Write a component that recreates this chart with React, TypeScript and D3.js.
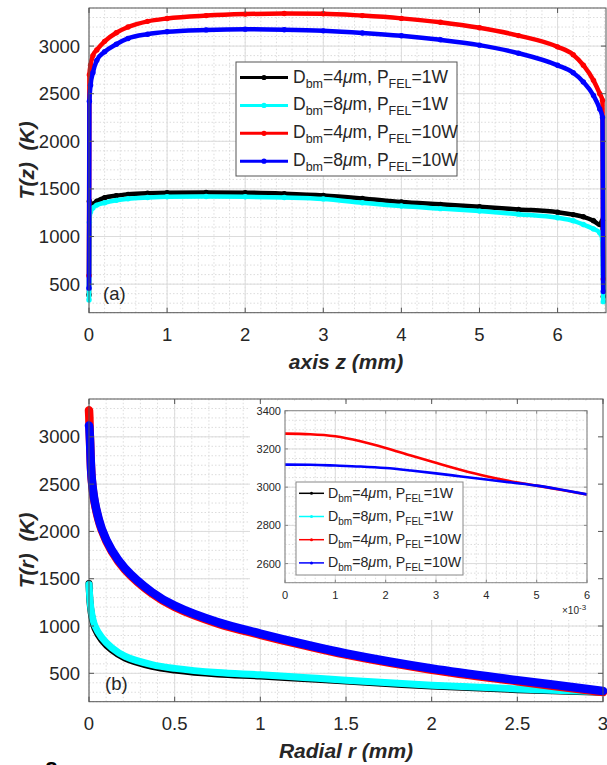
import * as d3 from "d3";
import React from "react";

// ---- panel (a): T(z) along the axis ----
const zPos = [0, 0.005, 0.02, 0.05, 0.1, 0.2, 0.35, 0.5, 0.75, 1, 1.5, 2, 2.5, 3, 3.5, 4, 4.5, 5, 5.5, 6, 6.2, 6.33, 6.46, 6.54, 6.575, 6.585];
const zBlack = [387, 1370, 1330, 1340, 1370, 1408, 1430, 1443, 1455, 1461, 1463, 1461, 1450, 1432, 1400, 1362, 1338, 1313, 1285, 1256, 1230, 1207, 1165, 1125, 1170, 369];
const zCyan = [334, 1150, 1260, 1300, 1330, 1355, 1380, 1397, 1410, 1418, 1421, 1418, 1410, 1395, 1355, 1320, 1293, 1267, 1235, 1197, 1165, 1126, 1080, 1040, 968, 316];
const zRed = [588, 2700, 2800, 2900, 2960, 3050, 3140, 3200, 3260, 3290, 3320, 3336, 3342, 3340, 3320, 3291, 3250, 3192, 3110, 2992, 2910, 2800, 2640, 2500, 2430, 553];
const zBlue = [458, 2420, 2590, 2720, 2850, 2940, 3020, 3080, 3125, 3150, 3170, 3178, 3172, 3160, 3138, 3108, 3066, 3010, 2925, 2798, 2720, 2623, 2481, 2340, 2250, 422];

// ---- panel (b): T(r) radial ----
const rPos = [0, 0.002, 0.004, 0.006, 0.016, 0.035, 0.074, 0.133, 0.21, 0.367, 0.5, 0.75, 1, 1.25, 1.5, 2, 2.5, 3];
const rBlack = [1450, 1370, 1305, 1250, 1105, 975, 855, 748, 660, 573, 535, 493, 472, 445, 418, 366, 327, 299];
const rCyan = [1440, 1380, 1320, 1270, 1130, 1000, 880, 770, 680, 592, 552, 508, 485, 456, 428, 375, 335, 305];
const rRed = [3280, 3205, 3060, 2960, 2548, 2287, 2017, 1789, 1597, 1346, 1202, 1028, 907, 797, 697, 538, 416, 302];
const rBlue = [3120, 3100, 3040, 2960, 2560, 2300, 2030, 1802, 1610, 1359, 1215, 1041, 920, 810, 710, 551, 428, 314];

// ---- inset (r in 1e-3 mm) ----
const insetR = [0, 0.5, 1, 1.5, 2, 2.5, 3, 3.5, 4, 4.5, 5, 5.5, 6];
const insetRed = [3280, 3277, 3266, 3240, 3205, 3165, 3127, 3090, 3057, 3030, 3008, 2985, 2962];
const insetBlue = [3118, 3117, 3113, 3108, 3100, 3087, 3072, 3056, 3040, 3024, 3008, 2986, 2962];

const legendD = ["4", "8", "4", "8"];
const legendP = ["1", "1", "10", "10"];
const colors = ["#000000", "#00ffff", "#ff0000", "#0000ff"];

const yTicks = [500, 1000, 1500, 2000, 2500, 3000];
const zTicks = [0, 1, 2, 3, 4, 5, 6];
const rTicks = [0, 0.5, 1, 1.5, 2, 2.5, 3];
const insetXTicks = [0, 1, 2, 3, 4, 5, 6];
const insetYTicks = [2600, 2800, 3000, 3200, 3400];

const FONT = "'Liberation Sans', Arial, Helvetica, sans-serif";
const GRID = "#dcdcdc";
const AXIS = "#555";
const TXT = "#262626";

const LegendLabel = ({ x, y, d, p, fs, sub }) => (
  <text x={x} y={y} fontSize={fs} fontFamily={FONT} fill={TXT}>
    D<tspan dy={sub * 0.4} fontSize={sub}>bm</tspan>
    <tspan dy={-sub * 0.4}>={d}</tspan>
    <tspan fontStyle="italic">μ</tspan>m, P
    <tspan dy={sub * 0.4} fontSize={sub}>FEL</tspan>
    <tspan dy={-sub * 0.4}>={p}W</tspan>
  </text>
);

const range = (a, b, step) => d3.range(Math.round((b - a) / step) + 1).map(i => a + i * step);

function Grid({ x, y, xMinor, yMinor, xMajor, yMajor }) {
  const [x0, x1] = x.range();
  const [y0, y1] = y.range();
  return (
    <g>
      {xMinor.map((v, i) => (
        <line key={"xm" + i} x1={x(v)} x2={x(v)} y1={y0} y2={y1} stroke={GRID} strokeDasharray="1.5,2" />
      ))}
      {yMinor.map((v, i) => (
        <line key={"ym" + i} x1={x0} x2={x1} y1={y(v)} y2={y(v)} stroke={GRID} strokeDasharray="1.5,2" />
      ))}
      {xMajor.map((v, i) => (
        <line key={"xM" + i} x1={x(v)} x2={x(v)} y1={y0} y2={y1} stroke={GRID} />
      ))}
      {yMajor.map((v, i) => (
        <line key={"yM" + i} x1={x0} x2={x1} y1={y(v)} y2={y(v)} stroke={GRID} />
      ))}
    </g>
  );
}

function Frame({ x, y, xTicks, yTicks, tick = 5, color = AXIS }) {
  const [x0, x1] = x.range();
  const [y0, y1] = y.range();
  return (
    <g stroke={color} fill="none">
      <rect x={x0} y={y1} width={x1 - x0} height={y0 - y1} />
      {xTicks.map((v, i) => (
        <g key={"xt" + i}>
          <line x1={x(v)} x2={x(v)} y1={y0} y2={y0 - tick} />
          <line x1={x(v)} x2={x(v)} y1={y1} y2={y1 + tick} />
        </g>
      ))}
      {yTicks.map((v, i) => (
        <g key={"yt" + i}>
          <line x1={x0} x2={x0 + tick} y1={y(v)} y2={y(v)} />
          <line x1={x1} x2={x1 - tick} y1={y(v)} y2={y(v)} />
        </g>
      ))}
    </g>
  );
}

export default function App() {
  // top panel scales
  const xA = d3.scaleLinear().domain([0, 6.62]).range([89, 606]);
  const yA = d3.scaleLinear().domain([200, 3400]).range([312.7, 8]);
  // bottom panel scales
  const xB = d3.scaleLinear().domain([0, 3]).range([89, 603]);
  const yB = d3.scaleLinear().domain([200, 3400]).range([701.7, 399]);
  // inset scales
  const xI = d3.scaleLinear().domain([0, 6]).range([285, 587]);
  const yI = d3.scaleLinear().domain([2500, 3400]).range([582.7, 410.7]);

  const topSeries = [zBlack, zCyan, zRed, zBlue];
  const botSeries = [rBlack, rCyan, rRed, rBlue];

  const lineA = d3.line<number>().x((_, i) => xA(zPos[i])).y(d => yA(d)).curve(d3.curveMonotoneX);
  const lineB = d3.line<number>().x((_, i) => xB(rPos[i])).y(d => yB(d)).curve(d3.curveCatmullRom.alpha(0.5));
  const lineI = d3.line<number>().x((_, i) => xI(insetR[i])).y(d => yI(d)).curve(d3.curveMonotoneX);

  return (
    <svg width={607} height={765} style={{ position: "absolute", left: 0, top: 0, background: "#fff" }} fontFamily={FONT}>
      <rect x={0} y={0} width={607} height={765} fill="#fff" />

      {/* ===== panel (a) ===== */}
      <Grid x={xA} y={yA} xMinor={range(0, 6.6, 0.2)} yMinor={range(200, 3400, 100)} xMajor={zTicks} yMajor={yTicks} />
      {topSeries.map((s, k) => (
        <g key={"a" + k}>
          <path d={lineA(s)} fill="none" stroke={colors[k]} strokeWidth={4.5} />
          {s.map((v, i) => (
            <circle key={i} cx={xA(zPos[i])} cy={yA(v)} r={2.7} fill={colors[k]} />
          ))}
        </g>
      ))}
      <Frame x={xA} y={yA} xTicks={zTicks} yTicks={yTicks} />
      {yTicks.map(v => (
        <text key={v} x={80} y={yA(v) + 6.5} textAnchor="end" fontSize={18.5} fill={TXT}>{v}</text>
      ))}
      {zTicks.map(v => (
        <text key={v} x={xA(v)} y={341} textAnchor="middle" fontSize={18.5} fill={TXT}>{v}</text>
      ))}
      <text x={103} y={300} fontSize={18.5} fill={TXT}>(a)</text>
      <text x={346} y={369} textAnchor="middle" fontSize={21} fontWeight="bold" fontStyle="italic" fill={TXT}>axis z (mm)</text>
      <text transform={`translate(34,${(8 + 312.7) / 2}) rotate(-90)`} textAnchor="middle" fontSize={21} fontWeight="bold" fontStyle="italic" fill={TXT} style={{ whiteSpace: "pre" }}>T(z)  (K)</text>

      {/* legend (a) */}
      <rect x={236} y={62} width={221} height={114} fill="#fff" stroke={AXIS} />
      {colors.map((c, k) => {
        const ly = 77.5 + k * 27.9;
        return (
          <g key={"la" + k}>
            <line x1={240} x2={288} y1={ly} y2={ly} stroke={c} strokeWidth={3} />
            <circle cx={264} cy={ly} r={2.6} fill={c} />
            <LegendLabel x={293} y={ly + 5} d={legendD[k]} p={legendP[k]} fs={17.5} sub={12.5} />
          </g>
        );
      })}

      {/* ===== panel (b) ===== */}
      <Grid x={xB} y={yB} xMinor={range(0, 3, 0.1)} yMinor={range(200, 3400, 100)} xMajor={rTicks} yMajor={yTicks} />
      {botSeries.map((s, k) => (
        <path key={"b" + k} d={lineB(s)} fill="none" stroke={colors[k]} strokeWidth={k < 2 ? 7 : 8.5} strokeLinecap="round" />
      ))}

      {/* inset */}
      <rect x={250} y={402} width={354} height={218} fill="#fff" />
      <Grid x={xI} y={yI} xMinor={range(0, 6, 0.2)} yMinor={range(2500, 3400, 50)} xMajor={insetXTicks} yMajor={insetYTicks} />
      {[insetRed, insetBlue].map((s, k) => (
        <path key={"i" + k} d={lineI(s)} fill="none" stroke={colors[k + 2]} strokeWidth={2.6} />
      ))}
      <Frame x={xI} y={yI} xTicks={insetXTicks} yTicks={insetYTicks} tick={3} color="#888" />
      {insetYTicks.map(v => (
        <text key={v} x={281} y={yI(v) + 4} textAnchor="end" fontSize={11} fill={TXT}>{v}</text>
      ))}
      {insetXTicks.map(v => (
        <text key={v} x={xI(v)} y={599} textAnchor="middle" fontSize={11} fill={TXT}>{v}</text>
      ))}
      <text x={562} y={614} fontSize={10} fill={TXT}>
        ×10<tspan dy={-4} fontSize={8}>-3</tspan>
      </text>
      <rect x={296} y={482} width={167} height={93} fill="#fff" stroke="#888" />
      {colors.map((c, k) => {
        const ly = 493.3 + k * 23.2;
        return (
          <g key={"li" + k}>
            <line x1={299} x2={324} y1={ly} y2={ly} stroke={c} strokeWidth={1.5} />
            <circle cx={311.5} cy={ly} r={1.5} fill={c} />
            <LegendLabel x={328} y={ly + 4.5} d={legendD[k]} p={legendP[k]} fs={14.2} sub={10} />
          </g>
        );
      })}

      <Frame x={xB} y={yB} xTicks={rTicks} yTicks={yTicks} />
      {yTicks.map(v => (
        <text key={v} x={80} y={yB(v) + 6.5} textAnchor="end" fontSize={18.5} fill={TXT}>{v}</text>
      ))}
      {rTicks.map(v => (
        <text key={v} x={xB(v)} y={730} textAnchor="middle" fontSize={18.5} fill={TXT}>{v}</text>
      ))}
      <text x={105} y={690} fontSize={18.5} fill={TXT}>(b)</text>
      <text x={346} y={758} textAnchor="middle" fontSize={21} fontWeight="bold" fontStyle="italic" fill={TXT}>Radial r (mm)</text>
      <text transform={`translate(34,${(399 + 701.7) / 2}) rotate(-90)`} textAnchor="middle" fontSize={21} fontWeight="bold" fontStyle="italic" fill={TXT} style={{ whiteSpace: "pre" }}>T(r)  (K)</text>

      <text x={-28} y={777} fontSize={22} fontWeight="bold" fill="#000">Figure 8</text>
    </svg>
  );
}
